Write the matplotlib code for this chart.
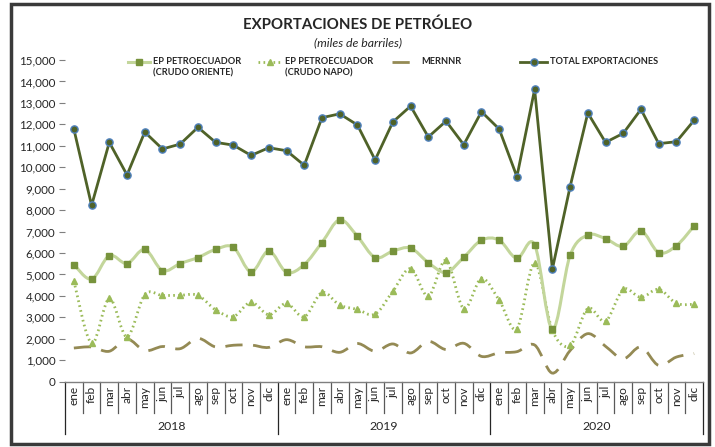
import matplotlib
matplotlib.use("Agg")
import matplotlib.pyplot as plt
import numpy as np
from matplotlib.path import Path
from matplotlib.patches import PathPatch, Rectangle
from matplotlib.lines import Line2D
import matplotlib.transforms as mtransforms

plt.rcParams['font.family'] = ['Lato', 'DejaVu Sans']

months = ["ene", "feb", "mar", "abr", "may", "jun", "jul", "ago", "sep", "oct", "nov", "dic"]
years = ["2018", "2019", "2020"]

oriente = [5460, 4780, 5880, 5510, 6170, 5180, 5510, 5790, 6170, 6270, 5120, 6100,
           5100, 5460, 6490, 7550, 6780, 5790, 6090, 6230, 5550, 5090, 5800, 6600,
           6600, 5750, 6390, 2440, 5890, 6840, 6670, 6310, 7040, 6020, 6340, 7270]
napo = [4700, 1790, 3880, 2090, 4060, 4020, 4030, 4030, 3350, 3040, 3710, 3120,
        3650, 3020, 4160, 3570, 3370, 3150, 4220, 5270, 3990, 5660, 3410, 4810,
        3800, 2480, 5540, 2400, 1690, 3410, 2820, 4300, 3930, 4310, 3650, 3610]
mernnr = [1570, 1620, 1420, 1990, 1450, 1640, 1540, 2020, 1620, 1700, 1710, 1600,
          1960, 1630, 1630, 1370, 1780, 1420, 1760, 1340, 1880, 1500, 1790, 1180,
          1350, 1400, 1710, 400, 1450, 2240, 1650, 1070, 1620, 760, 1150, 1310]
total = [11780, 8220, 11160, 9640, 11640, 10850, 11080, 11860, 11160, 11030, 10550, 10910,
         10770, 10090, 12310, 12490, 11970, 10340, 12110, 12850, 11410, 12150, 11050, 12590,
         11780, 9560, 13630, 5250, 9090, 12530, 11160, 11580, 12700, 11100, 11190, 12190]

labels = ["EP PETROECUADOR\n(CRUDO ORIENTE)", "EP PETROECUADOR\n(CRUDO NAPO)",
          "MERNNR", "TOTAL EXPORTACIONES"]

W, H = 715, 447
fig = plt.figure(figsize=(W / 100, H / 100), dpi=100)
ax = fig.add_axes([65 / W, (H - 381.7) / H, (703 - 65) / W, (381.7 - 60) / H])

n = len(total)
x = np.arange(n)


def smooth_path(xs, ys):
    xs = np.asarray(xs, float)
    ys = np.asarray(ys, float)
    P = np.column_stack([xs, ys])
    Pe = np.vstack([P[0], P, P[-1]])
    verts = [P[0]]
    codes = [Path.MOVETO]
    for i in range(len(P) - 1):
        p0, p1, p2, p3 = Pe[i], Pe[i + 1], Pe[i + 2], Pe[i + 3]
        c1 = p1 + (p2 - p0) / 6.0
        c2 = p2 - (p3 - p1) / 6.0
        verts += [c1, c2, p2]
        codes += [Path.CURVE4] * 3
    return Path(verts, codes)


c_or_line = "#C3D69B"
c_or_mk = "#77933C"
c_napo = "#9BBB59"
c_mer = "#948A54"
c_tot = "#4F6228"
c_tot_edge = "#4F81BD"
mer_ls = (0, (6.2, 3.8))
napo_ls = (0, (0.6, 1.2))

ax.add_patch(PathPatch(smooth_path(x, mernnr), fill=False, edgecolor=c_mer, lw=2.0,
                       linestyle=mer_ls, capstyle='butt', zorder=2))
ax.add_patch(PathPatch(smooth_path(x, napo), fill=False, edgecolor=c_napo, lw=2.0,
                       linestyle=napo_ls, zorder=3))
ax.plot(x, napo, linestyle='none', marker='^', ms=5, color=c_napo, zorder=4)
ax.add_patch(PathPatch(smooth_path(x, oriente), fill=False, edgecolor=c_or_line, lw=2.2, zorder=5))
ax.plot(x, oriente, linestyle='none', marker='s', ms=4.8, color=c_or_mk, zorder=6)
ax.plot(x, total, color=c_tot, lw=2.0, marker='o', ms=5.2, mfc=c_tot, mec=c_tot_edge,
        mew=1.0, zorder=7)

ax.set_xlim(-0.5, n - 0.5)
ax.set_ylim(0, 15000)
ax.set_yticks(np.arange(0, 15001, 1000))
ax.set_yticklabels([f"{v:,}" for v in range(0, 15001, 1000)], fontsize=8.4, color="#262626")
ax.tick_params(axis='y', length=4, width=0.8, color="#7f7f7f", pad=3)
ax.set_xticks([])
for s in ['top', 'right', 'left']:
    ax.spines[s].set_visible(False)
ax.spines['bottom'].set_color("#7f7f7f")
ax.spines['bottom'].set_linewidth(1.0)

trans = mtransforms.blended_transform_factory(ax.transData, fig.transFigure)


def fy(py):
    return 1 - py / H


for i in range(n):
    ax.text(i, fy(386), months[i % 12], transform=trans, rotation=90, ha='center', va='top',
            fontsize=8.6, color="#262626")
for b in range(n + 1):
    y2 = 434 if b % 12 == 0 else 413
    ax.add_line(Line2D([b - 0.5, b - 0.5], [fy(381.7), fy(y2)], transform=trans,
                       color="#262626" if b % 12 == 0 else "#595959", lw=0.9, clip_on=False))
for k, yr in enumerate(years):
    ax.text(12 * k + 5.5, fy(427), yr, transform=trans, ha='center', va='center',
            fontsize=8.8, color="#262626")

fig.text(358 / W, fy(25), "EXPORTACIONES DE PETRÓLEO", ha='center', va='center',
         fontsize=10.8, fontweight='bold', color="#262626")
fig.text(358 / W, fy(43), "(miles de barriles)", ha='center', va='center',
         fontsize=8.8, style='italic', color="#262626")

# manual legend
ly = fy(62)
entries = [
    (128, 150, dict(color=c_or_line, lw=2.2), dict(marker='s', ms=4.8, mfc=c_or_mk, mec=c_or_mk)),
    (258, 282, dict(color=c_napo, lw=2.0, linestyle=napo_ls), dict(marker='^', ms=5, mfc=c_napo, mec=c_napo)),
    (392, 418, dict(color=c_mer, lw=2.0, linestyle=mer_ls), None),
    (520, 547, dict(color=c_tot, lw=2.0), dict(marker='o', ms=5.2, mfc=c_tot, mec=c_tot_edge, mew=1.0)),
]
for (x0, x1, lkw, mkw), lab in zip(entries, labels):
    fig.add_artist(Line2D([x0 / W, x1 / W], [ly, ly], transform=fig.transFigure, **lkw))
    if mkw is not None:
        fig.add_artist(Line2D([(x0 + x1) / 2 / W], [ly], transform=fig.transFigure,
                              linestyle='none', **mkw))
    fig.text((x1 + 3) / W, fy(56.5), lab, ha='left', va='top', fontsize=6.7,
             fontweight='bold', color="#262626", linespacing=1.45)

fig.add_artist(Rectangle((11.5 / W, 3 / H), (708.5 - 11.5) / W, (443 - 3) / H,
                         transform=fig.transFigure, fill=False, edgecolor="#3a3a3a",
                         lw=2.5, zorder=10))

fig.savefig("out.png", dpi=100)
